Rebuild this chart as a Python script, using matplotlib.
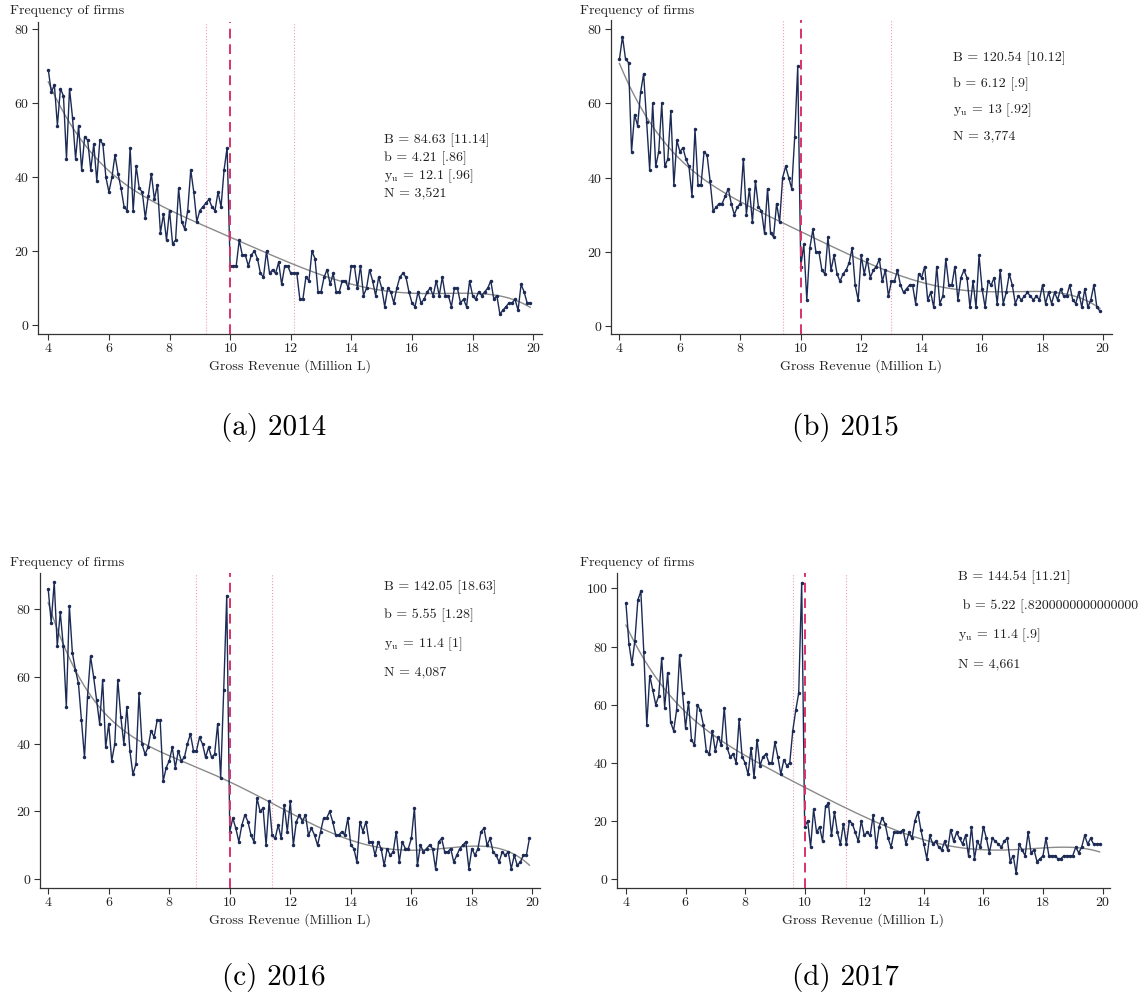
import numpy as np
import matplotlib
matplotlib.use("Agg")
import matplotlib.pyplot as plt

plt.rcParams["font.family"] = "cmr10"
plt.rcParams["mathtext.fontset"] = "cm"
plt.rcParams["axes.formatter.use_mathtext"] = True

# revenue bins (million L), 0.1 wide
bins = np.round(np.arange(4.0, 20.0, 0.1), 1)

counts_2014 = [69, 63, 65, 54, 64, 62, 45, 64, 56, 45, 54, 42, 51, 50, 42, 49, 39, 50, 49, 40,
               36, 40, 46, 41, 37, 32, 31, 48, 31, 43, 37, 36, 29, 35, 41, 34, 38, 25, 30, 23,
               31, 22, 23, 37, 28, 26, 31, 42, 36, 28, 31, 32, 33, 34, 32, 31, 36, 32, 42, 48,
               16, 16, 16, 23, 19, 19, 16, 19, 20, 18, 14, 13, 20, 14, 15, 14, 17, 11, 16, 16,
               14, 14, 14, 7, 7, 13, 12, 20, 18, 9, 9, 13, 15, 11, 14, 9, 9, 12, 12, 10,
               16, 16, 10, 16, 8, 10, 15, 12, 8, 13, 10, 5, 10, 9, 6, 10, 13, 14, 13, 9,
               6, 5, 9, 6, 7, 9, 10, 8, 12, 8, 13, 8, 8, 5, 10, 10, 6, 7, 5, 12,
               8, 7, 9, 8, 9, 10, 12, 7, 8, 3, 4, 5, 6, 6, 7, 4, 11, 9, 6, 6]

counts_2015 = [72, 78, 72, 71, 47, 57, 54, 63, 68, 55, 42, 60, 43, 47, 60, 43, 45, 58, 38, 50,
               47, 48, 45, 43, 35, 53, 38, 38, 47, 46, 39, 31, 32, 33, 33, 35, 37, 33, 30, 32,
               33, 45, 30, 37, 28, 39, 32, 31, 25, 37, 25, 24, 33, 28, 40, 43, 40, 37, 51, 70,
               16, 22, 7, 21, 26, 20, 20, 15, 14, 24, 15, 19, 14, 12, 14, 15, 17, 21, 11, 7,
               19, 14, 18, 13, 15, 16, 18, 12, 15, 8, 12, 12, 15, 11, 9, 10, 11, 11, 6, 14,
               13, 16, 7, 9, 5, 16, 6, 8, 18, 11, 11, 16, 7, 13, 15, 13, 5, 12, 5, 19,
               10, 5, 12, 11, 13, 6, 15, 6, 9, 14, 11, 6, 8, 7, 8, 9, 8, 7, 8, 7,
               11, 6, 9, 6, 9, 7, 10, 8, 8, 11, 7, 6, 9, 5, 10, 5, 7, 11, 5, 4]

counts_2016 = [86, 76, 88, 69, 79, 69, 51, 81, 67, 62, 58, 47, 36, 54, 66, 60, 53, 46, 59, 39,
               46, 35, 40, 59, 48, 40, 51, 38, 31, 34, 55, 40, 37, 39, 44, 42, 47, 47, 29, 33,
               35, 39, 33, 38, 35, 36, 40, 43, 38, 38, 42, 40, 36, 39, 36, 37, 46, 30, 56, 84,
               14, 18, 15, 11, 16, 19, 17, 13, 11, 24, 20, 21, 10, 23, 13, 12, 16, 12, 22, 14,
               23, 10, 17, 19, 17, 19, 13, 15, 13, 10, 14, 18, 18, 20, 17, 13, 13, 14, 13, 18,
               10, 9, 5, 17, 14, 17, 11, 11, 7, 11, 9, 4, 9, 7, 8, 14, 5, 11, 9, 9,
               12, 21, 4, 10, 8, 9, 10, 9, 3, 11, 12, 8, 8, 9, 5, 7, 9, 10, 11, 3,
               9, 7, 9, 14, 15, 10, 12, 8, 7, 5, 8, 7, 8, 3, 7, 4, 5, 7, 7, 12]

counts_2017 = [95, 81, 74, 82, 96, 99, 78, 53, 70, 65, 60, 63, 76, 59, 71, 54, 51, 58, 77, 64,
               52, 61, 48, 46, 60, 58, 53, 44, 43, 51, 44, 49, 46, 59, 45, 42, 43, 40, 55, 42,
               40, 36, 45, 35, 48, 39, 42, 43, 40, 40, 47, 42, 36, 41, 39, 40, 51, 58, 64, 102,
               18, 20, 11, 24, 16, 18, 13, 25, 26, 15, 23, 16, 12, 19, 12, 20, 19, 16, 13, 20,
               15, 16, 15, 22, 11, 18, 21, 19, 14, 11, 16, 16, 16, 17, 12, 16, 14, 20, 23, 17,
               12, 7, 15, 12, 13, 11, 10, 13, 10, 17, 13, 16, 14, 12, 15, 8, 18, 7, 13, 11,
               18, 14, 9, 14, 13, 12, 11, 13, 14, 6, 8, 2, 12, 10, 8, 16, 9, 10, 6, 7,
               8, 14, 8, 8, 8, 7, 7, 8, 8, 8, 8, 11, 9, 11, 15, 12, 14, 12, 12, 12]

years = ["2014", "2015", "2016", "2017"]
captions = ["(a) 2014", "(b) 2015", "(c) 2016", "(d) 2017"]
threshold = 10
lower_bounds = [9.2, 9.4, 8.9, 9.6]
upper_bounds = [12.1, 13.0, 11.4, 11.4]
stats = [["B = 84.63 [11.14]", "b = 4.21 [.86]", r"$\mathrm{y_u}$ = 12.1 [.96]", "N = 3,521"],
         ["B = 120.54 [10.12]", "b = 6.12 [.9]", r"$\mathrm{y_u}$ = 13 [.92]", "N = 3,774"],
         ["B = 142.05 [18.63]", "b = 5.55 [1.28]", r"$\mathrm{y_u}$ = 11.4 [1]", "N = 4,087"],
         ["B = 144.54 [11.21]", " b = 5.22 [.82000000000000006]", r"$\mathrm{y_u}$ = 11.4 [.9]", "N = 4,661"]]
yticks = [np.arange(0, 81, 20), np.arange(0, 81, 20), np.arange(0, 81, 20), np.arange(0, 101, 20)]
all_counts = [counts_2014, counts_2015, counts_2016, counts_2017]

W, H = 1138, 1000
fig = plt.figure(figsize=(W / 100, H / 100), dpi=100)

# axes boxes in pixels: left, right, top, bottom
boxes = [(38, 542, 22, 334), (611, 1112, 20, 334), (40, 540, 573, 888), (617, 1110, 573, 888)]
xlims = [(3.66, 20.29), (3.72, 20.3), (3.73, 20.25), (3.70, 20.25)]
ylims = [(-2.4, 82), (-2.2, 82.5), (-2.7, 90.7), (-3.1, 105.3)]
ylab_pos = [(10, 11), (580, 11), (10, 563), (580, 563)]
# annotation placement: x pixel, first line y pixel, line step
notes = [(384, 140, 18), (953, 58, 26), (384, 587, 28.5), (958, 577, 29)]

navy = "#1c2b55"
for i in range(4):
    l, r, t, b = boxes[i]
    ax = fig.add_axes([l / W, 1 - b / H, (r - l) / W, (b - t) / H])
    y = np.array(all_counts[i], dtype=float)

    # counterfactual polynomial fitted outside the excluded window
    keep = (bins < lower_bounds[i]) | (bins > upper_bounds[i])
    poly = np.polynomial.Polynomial.fit(bins[keep], y[keep], 5)
    xx = np.linspace(bins[0], bins[-1], 400)
    ax.plot(xx, poly(xx), color="#8a8a8a", lw=1.0, zorder=2)

    ax.plot(bins, y, color=navy, lw=1.0, marker="o", ms=1.5, zorder=3)

    ax.axvline(threshold, color="#d8336a", lw=1.4, ls=(0, (5, 3)), zorder=4)
    ax.axvline(lower_bounds[i], color="#f29ab8", lw=0.8, ls=":", zorder=1)
    ax.axvline(upper_bounds[i], color="#f29ab8", lw=0.8, ls=":", zorder=1)

    ax.set_xlim(*xlims[i])
    ax.set_ylim(*ylims[i])
    ax.set_xticks(np.arange(4, 21, 2))
    ax.set_yticks(yticks[i])
    for side in ["top", "right"]:
        ax.spines[side].set_visible(False)
    for side in ["left", "bottom"]:
        ax.spines[side].set_color("#333333")
        ax.spines[side].set_linewidth(0.9)
    ax.tick_params(direction="out", length=4, width=0.8, labelsize=10, pad=2, colors="#333333",
                   labelcolor="#222222")
    ax.set_xlabel("Gross Revenue (Million L)", fontsize=10, labelpad=3, color="#222222")

    fig.text(ylab_pos[i][0] / W, 1 - ylab_pos[i][1] / H, "Frequency of firms", fontsize=10,
             va="center", ha="left", color="#222222")

    nx, ny, step = notes[i]
    for k, line in enumerate(stats[i]):
        fig.text(nx / W, 1 - (ny + k * step) / H, line, fontsize=10, va="center", ha="left",
                 color="#222222")

    cx = 274 if i % 2 == 0 else 845
    cy = 427 if i < 2 else 978
    fig.text(cx / W, 1 - cy / H, captions[i], fontsize=21, ha="center", va="center")

fig.savefig("out.png", dpi=100, facecolor="white")
